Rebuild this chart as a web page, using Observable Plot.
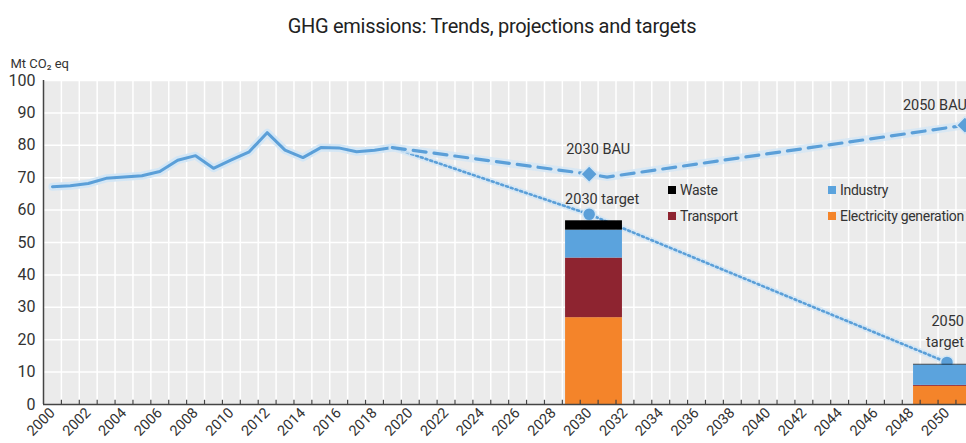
<!DOCTYPE html>
<html>
<head>
<meta charset="utf-8">
<script src="https://cdn.jsdelivr.net/npm/d3@7"></script>
<script src="https://cdn.jsdelivr.net/npm/@observablehq/plot@0.6"></script>
<style>
  html, body { margin: 0; padding: 0; background: #fff; overflow: hidden; }
  #wrap { position: relative; width: 966px; height: 443px; font-family: Roboto, "Liberation Sans", sans-serif; color: #333; }
  #title { position: absolute; top: 14px; left: 0; width: 984px; text-align: center; font-size: 20px; color: #222; letter-spacing: -0.3px; }
  #chart { position: absolute; top: 40px; left: 0; }
  .leg { position: absolute; font-size: 14px; color: #333; white-space: nowrap; letter-spacing: -0.3px; }
  .leg i { display: inline-block; width: 8px; height: 8px; margin-right: 4px; vertical-align: 1px; }
</style>
</head>
<body>
<div id="wrap">
  <div id="title">GHG emissions: Trends, projections and targets</div>
  <div id="chart"></div>
</div>
<script>
// ---- data ----
const histYears = [2000, 2001, 2002, 2003, 2004, 2005, 2006, 2007, 2008, 2009, 2010, 2011, 2012, 2013, 2014, 2015, 2016, 2017, 2018, 2019];
const histValues = [67.2, 67.5, 68.2, 69.8, 70.2, 70.6, 71.9, 75.4, 76.8, 72.9, 75.5, 78.0, 83.9, 78.5, 76.2, 79.3, 79.2, 78.0, 78.5, 79.3];

const bauYears = [2019, 2030, 2031, 2051];
const bauValues = [79.3, 71.1, 70.2, 86.2];
const bauMarkerYears = [2030, 2051];
const bauMarkerValues = [71.1, 86.2];
const bauLabels = ["2030 BAU", "2050 BAU"];

const targetYears = [2019, 2030, 2050];
const targetValues = [79.3, 58.7, 13.0];
const targetMarkerYears = [2030, 2050];
const targetMarkerValues = [58.7, 13.0];
const targetLabels = ["2030 target", "2050\ntarget"];

const sectors = ["Electricity generation", "Transport", "Industry", "Waste"];
const barYears = [2030, 2050];
const bar2030 = [26.8, 18.4, 8.6, 2.9];
const bar2050 = [5.6, 0.3, 6.3, 0.2];

const yTicks = [0, 10, 20, 30, 40, 50, 60, 70, 80, 90, 100];
const xTickYears = d3.range(2000, 2051, 2);
const allYears = d3.range(2000, 2051);

// ---- styles ----
const sectorColors = {"Electricity generation": "#f4842a", "Transport": "#8e2430", "Industry": "#5ba3dd", "Waste": "#000000"};
const lineBlue = "#5b9fd8";
const halo = "#d3e6f5";
const barStartOffset = {2030: -1.32, 2050: -1.87};
const barWidth = 3.18;

// ---- derived tables ----
const hist = histYears.map((x, i) => ({x, y: histValues[i]}));
const bau = bauYears.map((x, i) => ({x, y: bauValues[i]}));
const bauM = bauMarkerYears.map((x, i) => ({x, y: bauMarkerValues[i], label: bauLabels[i]}));
const tgt = targetYears.map((x, i) => ({x, y: targetValues[i]}));
const tgtM = targetMarkerYears.map((x, i) => ({x, y: targetMarkerValues[i], label: targetLabels[i]}));
const bars = [];
[bar2030, bar2050].forEach((vals, j) => {
  let acc = 0;
  const yr = barYears[j];
  vals.forEach((v, i) => {
    bars.push({year: yr, sector: sectors[i], x1: yr + barStartOffset[yr], x2: yr + barStartOffset[yr] + barWidth, y1: acc, y2: acc + v});
    acc += v;
  });
});
const boundaries = allYears.map(y => y + 0.5);

const font = 'Roboto, "Liberation Sans", sans-serif';
const labelStyle = {fontSize: 14.5, fill: "#333"};

const chart = Plot.plot({
  width: 966,
  height: 403,
  marginLeft: 43,
  marginRight: 0,
  marginTop: 40,
  marginBottom: 39,
  style: {fontFamily: font, fontSize: "15px", color: "#333", background: "transparent", overflow: "hidden"},
  x: {domain: [1999.5, 2051.09], axis: null},
  y: {domain: [0, 100], axis: null},
  marks: [
    Plot.frame({fill: "#ebebeb", stroke: null}),
    Plot.ruleY(yTicks.slice(1), {stroke: "#fff", strokeWidth: 1.5}),
    Plot.ruleX(boundaries, {stroke: "#fff", strokeWidth: 1.5, y1: 0, y2: 100}),
    // historical
    Plot.line(hist, {x: "x", y: "y", stroke: halo, strokeWidth: 8, strokeLinejoin: "round"}),
    Plot.line(hist, {x: "x", y: "y", stroke: lineBlue, strokeWidth: 3, strokeLinejoin: "round"}),
    // target path
    Plot.line(tgt, {x: "x", y: "y", stroke: halo, strokeWidth: 6, strokeOpacity: 0.8}),
    Plot.line(tgt, {x: "x", y: "y", stroke: lineBlue, strokeWidth: 2.6, strokeDasharray: "2,3"}),
    Plot.dot(tgtM, {x: "x", y: "y", r: 6.5, fill: lineBlue, stroke: halo, strokeWidth: 1.5}),
    // BAU path
    Plot.line(bau, {x: "x", y: "y", stroke: halo, strokeWidth: 8, strokeOpacity: 0.8}),
    Plot.line(bau, {x: "x", y: "y", stroke: lineBlue, strokeWidth: 3.2, strokeDasharray: "13,8"}),
    Plot.dot(bauM, {x: "x", y: "y", r: 7.6, symbol: "diamond2", fill: lineBlue, stroke: halo, strokeWidth: 1.5}),
    // bars
    Plot.rect(bars, {x1: "x1", x2: "x2", y1: "y1", y2: "y2", fill: d => sectorColors[d.sector]}),
    // axes lines
    Plot.ruleX([1999.5], {y1: 0, y2: 100, stroke: "#444", strokeWidth: 1.5}),
    Plot.ruleY([0], {stroke: "#444", strokeWidth: 1.5}),
    Plot.ruleX(boundaries, {y1: 0, y2: 1.3, stroke: "#444", strokeWidth: 1.2}),
    Plot.axisY({ticks: yTicks, tickSize: 0, tickPadding: 8, fontSize: 16, label: null}),
    Plot.axisX({ticks: xTickYears, tickSize: 0, tickPadding: 6, tickRotate: -45, fontSize: 14.5, label: null, tickFormat: d => String(d)}),
    // unit label
    Plot.text(["Mt CO\u2082 eq"], {frameAnchor: "top-left", dx: -33, dy: -22, textAnchor: "start", fontSize: 13}),
    // annotations
    Plot.text([bauM[0]], {x: "x", y: "y", text: "label", dx: 9, dy: -25, ...labelStyle}),
    Plot.text([bauM[1]], {x: "x", y: "y", text: "label", dx: 2, dy: -20, textAnchor: "end", ...labelStyle}),
    Plot.text([tgtM[0]], {x: "x", y: "y", text: "label", dx: 13, dy: -15, ...labelStyle}),
    Plot.text([tgtM[1]], {x: "x", y: "y", text: "label", dx: 17, dy: -33, textAnchor: "end", lineHeight: 1.45, ...labelStyle})
  ]
});
document.getElementById("chart").appendChild(chart);

// legend (inside plot area, as in the reference)
const legendItems = [
  {sector: "Waste", left: 668, top: 182},
  {sector: "Industry", left: 828, top: 182},
  {sector: "Transport", left: 668, top: 208},
  {sector: "Electricity generation", left: 828, top: 208}
];
const wrap = document.getElementById("wrap");
legendItems.forEach(it => {
  const d = document.createElement("div");
  d.className = "leg";
  d.style.left = it.left + "px";
  d.style.top = it.top + "px";
  d.innerHTML = `<i style="background:${sectorColors[it.sector]}"></i>${it.sector}`;
  wrap.appendChild(d);
});
</script>
</body>
</html>
